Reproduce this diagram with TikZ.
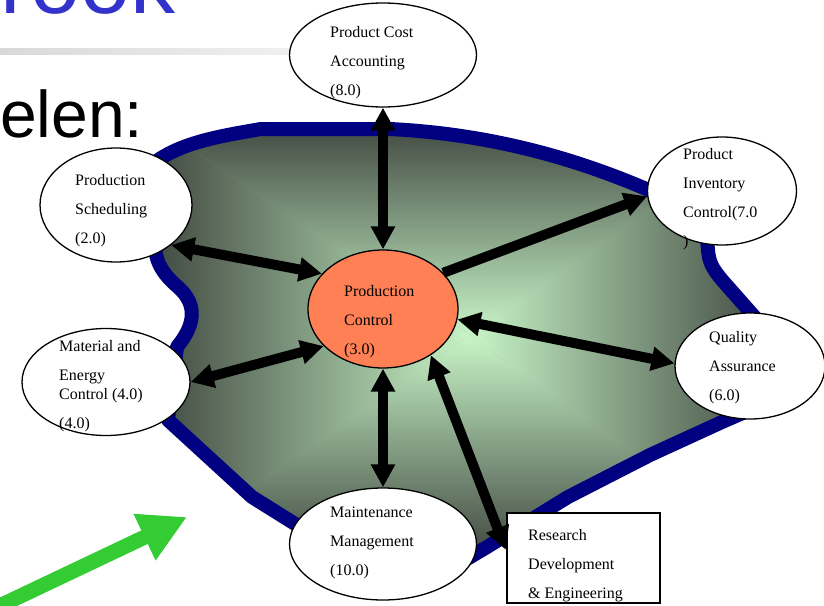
\documentclass[tikz,border=0pt]{standalone}
\usepackage{fontspec}
\setmainfont{Liberation Serif}
\newfontfamily\slidefont{Liberation Sans}
\usetikzlibrary{arrows.meta,shapes.geometric}
\definecolor{navyrim}{RGB}{0,0,128}
\definecolor{blobedge}{RGB}{60,66,60}
\definecolor{blobmid}{RGB}{200,245,200}
\definecolor{coral}{RGB}{255,128,85}
\definecolor{slideblue}{RGB}{51,51,204}
\definecolor{arrowgreen}{RGB}{51,204,51}

\begin{document}
\begin{tikzpicture}[x=1pt,y=-1pt,
  ell/.style={draw,ellipse,fill=white,line width=1.3pt,inner sep=0pt},
  lbl/.style={anchor=north west,align=left,inner sep=0pt,font=\fontsize{16}{29}\selectfont},
  link/.style={line width=10pt,>={Triangle[length=23pt,width=23pt]}}]
  \useasboundingbox (0,0) rectangle (824,605);
  \clip (0,0) rectangle (824,605);
  % slide title and rule
  \shade[left color=gray!30,right color=white] (0,48) rectangle (480,54);
  \node[anchor=base west,inner sep=0pt,text=slideblue,font=\slidefont\fontsize{90}{90}\selectfont] (title) at (0,13) {rook};
  \node[anchor=base west,inner sep=0pt,font=\slidefont\fontsize{66}{66}\selectfont] (sub) at (0,137) {elen:};
  % the shaded area
  \path[save path=\blobpath] (150,200) -- (158,160) .. controls (185,142) and (220,136) .. (261,129)
    -- (390,129) .. controls (470,133) and (560,150) .. (660,195) -- (706,230) -- (708,250)
    .. controls (709,262) and (712,268) .. (722,280) -- (775,340) -- (745,412) -- (722,422)
    -- (650,455) -- (568,497) -- (487,547) -- (440,575) -- (300,527) -- (252,497) -- (168,420)
    -- (177,347) .. controls (195,325) and (198,305) .. (178,287) .. controls (160,272) and (155,258) .. (155,245) -- cycle;
  \begin{scope}
    \clip[use path=\blobpath];
    \fill[blobedge!50!blobmid] (140,115) rectangle (785,565);
    \shade[top color=blobedge,bottom color=blobmid] (140,115) -- (785,115) -- (470,335) -- cycle;
    \shade[top color=blobmid,bottom color=blobedge] (140,565) -- (785,565) -- (470,335) -- cycle;
    \shade[left color=blobedge,right color=blobmid] (140,115) -- (140,565) -- (470,335) -- cycle;
    \shade[left color=blobmid,right color=blobedge] (785,115) -- (785,565) -- (470,335) -- cycle;
  \end{scope}
  \draw[navyrim,line width=14pt,line join=round,use path=\blobpath];
  % units
  \node[ell,minimum width=187pt,minimum height=104pt] (pca) at (383,55) {};
  \node[ell,minimum width=152pt,minimum height=114pt] (sch) at (116,205) {};
  \node[ell,minimum width=168pt,minimum height=107pt] (mat) at (106,382) {};
  \node[ell,fill=coral,minimum width=150pt,minimum height=118pt] (ctrl) at (383,309) {};
  \node[ell,minimum width=149pt,minimum height=108pt] (inv) at (722,191) {};
  \node[ell,minimum width=150pt,minimum height=106pt] (qa) at (750,366) {};
  \node[ell,minimum width=187pt,minimum height=112pt] (mnt) at (383,544) {};
  \node[draw,fill=white,line width=2.5pt,inner sep=0pt,minimum width=153pt,minimum height=90pt] (res) at (583.5,558) {};
  \node[lbl] (pcaT) at (330,26) {Product Cost\\Accounting\\(8.0)};
  \node[lbl] (schT) at (75,174) {Production\\Scheduling\\(2.0)};
  \node[lbl] (matT) at (59,340) {Material and\\Energy\\[-10pt]Control (4.0)\\(4.0)};
  \node[lbl] (ctrlT) at (344,285) {Production\\Control\\(3.0)};
  \node[lbl] (invT) at (683,148) {Product\\Inventory\\Control(7.0\\)};
  \node[lbl] (qaT) at (709,331) {Quality\\Assurance\\(6.0)};
  \node[lbl] (mntT) at (330,507) {Maintenance\\Management\\(10.0)};
  \node[lbl] (resT) at (528,529) {Research\\Development\\\& Engineering};
  % data flows
  \draw[link,<->] (pca) -- (ctrl);
  \draw[link,<->] (sch.-36) -- (ctrl.150);
  \draw[link,<->] (mat.east) -- (ctrl.212);
  \draw[link,->] (ctrl.31) -- (inv.184);
  \draw[link,<->] (ctrl.-8) -- (qa.178);
  \draw[link,<->] (ctrl) -- (mnt);
  \draw[link,<->] (ctrl.-44) -- (res.174);
  % green pointer
  \coordinate (gtail) at (-30,620);
  \coordinate (ghead) at (187,517);
  \draw[arrowgreen,line width=15pt,-{Triangle[length=47pt,width=48pt]}] (gtail) -- (ghead);
\end{tikzpicture}
\end{document}
